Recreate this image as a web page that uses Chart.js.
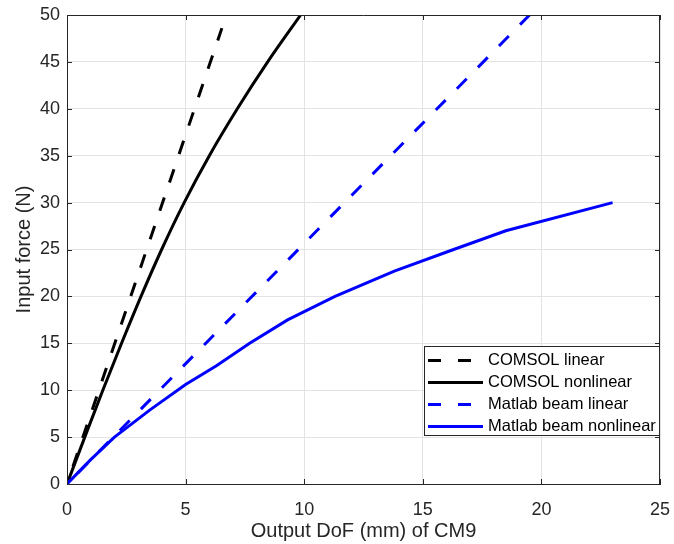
<!DOCTYPE html>
<html>
<head>
<meta charset="utf-8">
<script src="https://cdn.jsdelivr.net/npm/chart.js@4.4.1/dist/chart.umd.min.js"></script>
<style>
  html, body { margin: 0; padding: 0; background: #ffffff; }
  #wrap { width: 674px; height: 544px; }
</style>
</head>
<body>
<div id="wrap"><canvas id="c" width="674" height="544"></canvas></div>
<script>
// ---- data ----
const xTicks = [0, 5, 10, 15, 20, 25];
const yTicks = [0, 5, 10, 15, 20, 25, 30, 35, 40, 45, 50];

const seriesNames = ["COMSOL linear", "COMSOL nonlinear", "Matlab beam linear", "Matlab beam nonlinear"];

const comsolLinearX = [0, 6.53];
const comsolLinearY = [0, 48.6];

const comsolNonlinearX = [0, 0.75, 1.51, 2.3, 3.12, 3.99, 4.94, 6.0, 7.18, 8.46, 9.85];
const comsolNonlinearY = [0, 5, 10, 15, 20, 25, 30, 35, 40, 45, 50];

const beamLinearX = [0, 19.5];
const beamLinearY = [0, 50];

const beamNonlinearX = [0, 1.0, 2.0, 3.5, 5.0, 6.3, 7.7, 9.3, 11.3, 13.8, 16.3, 18.5, 23.0];
const beamNonlinearY = [0, 2.6, 5, 7.9, 10.6, 12.6, 15, 17.5, 20, 22.7, 25, 27, 30];

function pts(xs, ys) { return xs.map((x, i) => ({ x: x, y: ys[i] })); }

const FONT = "'Liberation Sans', Arial, Helvetica, sans-serif";
const AXIS_COLOR = '#262626';
const GRID_COLOR = '#e3e3e3';

const styles = [
  { color: '#000000', dash: [14, 16], offset: 11.5 },
  { color: '#000000', dash: [], offset: 0 },
  { color: '#0000ff', dash: [14, 16], offset: 14.8 },
  { color: '#0000ff', dash: [], offset: 0 }
];

// box + inward ticks (MATLAB style)
const boxPlugin = {
  id: 'boxPlugin',
  afterDatasetsDraw(chart) {
    const { ctx, chartArea: a, scales } = chart;
    ctx.save();
    ctx.strokeStyle = AXIS_COLOR;
    ctx.lineWidth = 1;
    ctx.beginPath();
    ctx.moveTo(a.left, a.top + 0.5); ctx.lineTo(a.right, a.top + 0.5);
    ctx.moveTo(a.right - 0.5, a.top); ctx.lineTo(a.right - 0.5, a.bottom);
    const tl = 5;
    xTicks.forEach(v => {
      const px = Math.round(scales.x.getPixelForValue(v)) + 0.5;
      ctx.moveTo(px, a.bottom); ctx.lineTo(px, a.bottom - tl);
      ctx.moveTo(px, a.top); ctx.lineTo(px, a.top + tl);
    });
    yTicks.forEach(v => {
      const py = Math.round(scales.y.getPixelForValue(v)) + 0.5;
      ctx.moveTo(a.left, py); ctx.lineTo(a.left + tl, py);
      ctx.moveTo(a.right, py); ctx.lineTo(a.right - tl, py);
    });
    ctx.stroke();
    ctx.restore();
  }
};

// legend box inside the plot area (lower right)
const legendPlugin = {
  id: 'legendPlugin',
  afterDraw(chart) {
    const { ctx, chartArea: a } = chart;
    const w = 236, h = 90;
    const left = a.right - w;
    const top = 346;
    ctx.save();
    ctx.fillStyle = '#ffffff';
    ctx.fillRect(left, top, w, h);
    ctx.strokeStyle = AXIS_COLOR;
    ctx.lineWidth = 1;
    ctx.strokeRect(left + 0.5, top + 0.5, w - 1, h - 1);
    ctx.font = '16.5px ' + FONT;
    ctx.textBaseline = 'middle';
    ctx.textAlign = 'left';
    seriesNames.forEach((name, i) => {
      const y = top + 14.5 + i * 22;
      ctx.beginPath();
      ctx.strokeStyle = styles[i].color;
      ctx.lineWidth = 3;
      ctx.setLineDash(styles[i].dash.length ? [13, 17] : []);
      ctx.moveTo(left + 4, y);
      ctx.lineTo(left + 59, y);
      ctx.stroke();
      ctx.setLineDash([]);
      ctx.fillStyle = '#000000';
      ctx.fillText(name, left + 64, y);
    });
    ctx.restore();
  }
};

const datasets = [
  [comsolLinearX, comsolLinearY],
  [comsolNonlinearX, comsolNonlinearY],
  [beamLinearX, beamLinearY],
  [beamNonlinearX, beamNonlinearY]
].map((d, i) => ({
  label: seriesNames[i],
  data: pts(d[0], d[1]),
  borderColor: styles[i].color,
  backgroundColor: styles[i].color,
  borderWidth: 3,
  borderDash: styles[i].dash,
  borderDashOffset: styles[i].offset,
  borderCapStyle: 'butt',
  pointRadius: 0,
  fill: false,
  tension: 0,
  cubicInterpolationMode: i === 1 ? 'monotone' : 'default',
  order: 4 - i
}));

new Chart(document.getElementById('c'), {
  type: 'line',
  data: { datasets: datasets },
  options: {
    responsive: false,
    animation: false,
    devicePixelRatio: 1,
    layout: { padding: { top: 15, right: 14, left: 0, bottom: 0 } },
    plugins: {
      legend: { display: false },
      tooltip: { enabled: false }
    },
    scales: {
      x: {
        type: 'linear',
        min: 0, max: 25,
        afterBuildTicks(scale) { scale.ticks = xTicks.map(v => ({ value: v })); },
        afterFit(scale) { scale.height = 60; scale.paddingLeft = 0; scale.paddingRight = 0; },
        ticks: { color: AXIS_COLOR, font: { family: FONT, size: 18 }, padding: 15, maxRotation: 0 },
        grid: { color: GRID_COLOR, lineWidth: 1, drawTicks: false },
        border: { display: true, color: AXIS_COLOR, width: 1 },
        title: { display: true, text: 'Output DoF (mm) of CM9', color: AXIS_COLOR,
                 font: { family: FONT, size: 20 }, padding: { top: 0, bottom: 1 } }
      },
      y: {
        type: 'linear',
        min: 0, max: 50,
        afterBuildTicks(scale) { scale.ticks = yTicks.map(v => ({ value: v })); },
        afterFit(scale) { scale.width = 67; scale.paddingTop = 0; scale.paddingBottom = 0; },
        ticks: { color: AXIS_COLOR, font: { family: FONT, size: 18 }, padding: 7 },
        grid: { color: GRID_COLOR, lineWidth: 1, drawTicks: false },
        border: { display: true, color: AXIS_COLOR, width: 1 },
        title: { display: true, text: 'Input force (N)', color: AXIS_COLOR,
                 font: { family: FONT, size: 20 }, padding: { top: 12, bottom: 0 } }
      }
    }
  },
  plugins: [boxPlugin, legendPlugin]
});
</script>
</body>
</html>
